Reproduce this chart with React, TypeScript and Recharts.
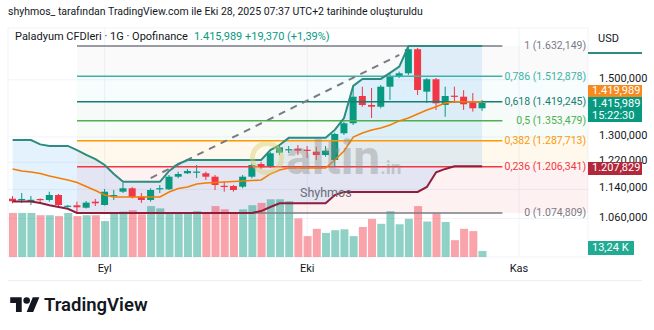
import React from "react";
import { Area, Bar, CartesianGrid, ComposedChart, Line, ReferenceArea, ReferenceDot, ReferenceLine, XAxis, YAxis } from "recharts";

// daily candles, Aug 18 -> Oct 28 2025
const opens = [1113.9, 1111.7, 1109.5, 1113.1, 1110.3, 1124.2, 1092.3, 1095.6, 1089.1, 1105.6, 1096.5, 1123.4, 1133.6, 1143.3, 1119.5, 1110.3, 1142.7, 1140.4, 1176.9, 1187.0, 1191.2, 1187.0, 1176.9, 1150.4, 1149.8, 1147.8, 1176.9, 1214.9, 1206.7, 1249.8, 1259.8, 1262.3, 1258.9, 1252.9, 1242.5, 1227.1, 1311.9, 1345.2, 1440.2, 1408.2, 1402.2, 1474.1, 1514.1, 1524.5, 1619.0, 1455.9, 1501.8, 1408.2, 1441.3, 1437.7, 1416.8, 1396.619];
const highs = [1121.4, 1129.9, 1121.4, 1114.5, 1133.6, 1127.1, 1096.5, 1105.6, 1107.5, 1113.1, 1141.3, 1138.4, 1158.5, 1147.0, 1129.9, 1143.3, 1152.7, 1181.9, 1191.8, 1199.8, 1211.9, 1191.8, 1181.9, 1162.3, 1152.7, 1181.9, 1217.1, 1221.0, 1252.0, 1274.0, 1270.8, 1274.0, 1270.8, 1268.6, 1270.8, 1313.9, 1350.6, 1474.1, 1474.1, 1469.4, 1480.4, 1521.8, 1530.6, 1632.149, 1624.1, 1506.6, 1506.6, 1474.1, 1474.1, 1461.5, 1451.0, 1426.0];
const lows = [1101.2, 1102.1, 1096.5, 1099.2, 1105.6, 1093.7, 1089.6, 1074.809, 1086.9, 1093.7, 1095.1, 1110.3, 1129.9, 1114.5, 1102.1, 1105.6, 1129.9, 1138.4, 1172.2, 1184.9, 1173.1, 1167.3, 1138.4, 1133.6, 1133.6, 1143.3, 1172.2, 1199.8, 1202.8, 1242.5, 1248.8, 1242.5, 1233.3, 1227.1, 1237.3, 1207.8, 1306.3, 1339.4, 1402.2, 1363.1, 1396.6, 1426.0, 1506.6, 1517.9, 1443.8, 1415.3, 1390.7, 1367.5, 1415.3, 1390.7, 1385.0, 1387.4];
const closes = [1106.7, 1113.1, 1110.9, 1110.9, 1124.2, 1096.5, 1094.5, 1090.2, 1102.9, 1101.2, 1133.6, 1124.2, 1143.3, 1118.6, 1110.3, 1138.4, 1143.6, 1176.9, 1184.9, 1193.9, 1192.1, 1176.9, 1152.7, 1149.2, 1138.4, 1176.9, 1211.9, 1204.9, 1247.9, 1266.7, 1260.8, 1256.1, 1257.6, 1242.5, 1256.1, 1309.6, 1345.2, 1437.7, 1408.2, 1402.2, 1474.1, 1511.5, 1524.5, 1619.0, 1462.1, 1501.8, 1414.2, 1440.2, 1439.1, 1410.7, 1396.619, 1415.989];
// volume in thousands
const volumes = [97, 97, 97, 92, 92, 90, 97, 90, 92, 92, 79, 95, 100, 103, 94, 112, 107, 97, 97, 97, 101, 97, 112, 105, 97, 105, 114, 119, 127, 127, 123, 85, 46, 62, 53, 59, 61, 46, 66, 84, 73, 101, 72, 84, 112, 78, 96, 77, 37, 62, 57, 13.24];

// donchian channel
const upperBand = [1290, 1290, 1290, 1276, 1271, 1271, 1271, 1258, 1243, 1230, 1212, 1185, 1162, 1162, 1162, 1162, 1162, 1194, 1215, 1227, 1227, 1227, 1227, 1227, 1227, 1227, 1227, 1227, 1258, 1274, 1297, 1297, 1297, 1297, 1297, 1323, 1363, 1477, 1503, 1503, 1503, 1526, 1550, 1632.149, 1632.149, 1632.149, 1632.149, 1632.149, 1632.149, 1632.149, 1632.149, 1632.149];
const lowerBand = [1106, 1106, 1106, 1102, 1096, 1091, 1086, 1074.809, 1074.809, 1074.809, 1074.809, 1074.809, 1074.809, 1074.809, 1074.809, 1074.809, 1074.809, 1074.809, 1074.809, 1074.809, 1074.809, 1074.809, 1074.809, 1074.809, 1074.809, 1074.809, 1074.809, 1080, 1091, 1101, 1101, 1101, 1101, 1101, 1101, 1124, 1133, 1133, 1133, 1133, 1133, 1133, 1133, 1133, 1133, 1147, 1190, 1200, 1207.829, 1207.829, 1207.829, 1207.829];
const basisBand = [1199.8, 1193.8, 1190.9, 1186.4, 1178.9, 1173.1, 1167.3, 1160.0, 1148.4, 1137.0, 1124.2, 1118.6, 1118.6, 1118.6, 1118.6, 1118.6, 1118.6, 1132.7, 1142.7, 1147.0, 1155.6, 1158.5, 1160.0, 1161.4, 1162.9, 1164.4, 1165.8, 1167.3, 1184.9, 1196.9, 1202.8, 1202.8, 1202.8, 1202.8, 1202.8, 1227.1, 1255.1, 1299.8, 1312.9, 1322.8, 1329.4, 1339.4, 1353.1, 1363.1, 1376.8, 1390.7, 1402.2, 1415.3, 1419.989, 1419.989, 1419.989, 1419.989];

const emptySlots = 11;
const monthTicks = [10, 32, 55];
const monthLabels = ["Eyl", "Eki", "Kas"];
const priceTicks = [1060, 1140, 1220, 1300, 1500];

const fibRatios = ["1", "0,786", "0,618", "0,5", "0,382", "0,236", "0"];
const fibPrices = [1632.149, 1512.878, 1419.245, 1353.479, 1287.713, 1206.341, 1074.809];
const fibColors = ["#787b86", "#3bb3a6", "#167d70", "#4caf50", "#ff9800", "#f23645", "#787b86"];
const fibFill = [0.04, 0.04, 0.04, 0.04, 0.07, 0.07];
const fibSpan = [7, 53.2, 62.3]; // start bar, line end, label end

const trendIdx = [15, 42];
const trendPrice = [1173, 1596];

const GREEN = "#089981";
const RED = "#f23645";

const trNum = (v: number, d = 3) => {
  const [int, dec] = v.toFixed(d).split(".");
  return int.replace(/\B(?=(\d{3})+(?!\d))/g, ".") + (dec ? "," + dec : "");
};

const rows = Array.from({ length: opens.length + emptySlots }, (_, i) => {
  if (i >= opens.length) return { i };
  return {
    i,
    open: opens[i],
    high: highs[i],
    low: lows[i],
    close: closes[i],
    volume: volumes[i],
    upper: upperBand[i],
    lower: lowerBand[i],
    basis: basisBand[i],
    band: [lowerBand[i], upperBand[i]],
  };
});

const Candle = (props: any) => {
  const { x, y, width, height, payload } = props;
  if (payload == null || payload.open == null) return null;
  const top = Math.min(y, y + height);
  const h = Math.abs(height);
  const lh = Math.log(payload.high);
  const ll = Math.log(payload.low);
  const toY = (v: number) => (lh === ll ? top : top + (h * (lh - Math.log(v))) / (lh - ll));
  const color = payload.close >= payload.open ? GREEN : RED;
  const yo = toY(payload.open);
  const yc = toY(payload.close);
  const cx = x + width / 2;
  return (
    <g>
      <line x1={cx} x2={cx} y1={top} y2={top + h} stroke={color} strokeWidth={1} />
      <rect x={x} y={Math.min(yo, yc)} width={width} height={Math.max(1.2, Math.abs(yo - yc))} fill={color} />
    </g>
  );
};

const VolumeBar = (props: any) => {
  const { x, y, width, height, payload } = props;
  if (payload == null || payload.volume == null) return null;
  const fill = payload.close >= payload.open ? "rgba(8,153,129,0.45)" : "rgba(242,54,69,0.45)";
  return <rect x={x} y={y} width={width} height={height} fill={fill} />;
};

const PriceTick = ({ x, y, payload }: any) => (
  <text x={x + 3} y={y} dy={2} fontSize={11} fill="#131722">
    {trNum(payload.value)}
  </text>
);

const MonthTick = ({ x, y, payload }: any) => (
  <text x={x} y={y} dy={7} textAnchor="middle" fontSize={11} fill="#131722">
    {monthLabels[monthTicks.indexOf(payload.value)]}
  </text>
);

const fibLabel = (k: number) => (p: any) => (
  <text x={p.cx} y={p.cy} dy={3.5} textAnchor="end" fontSize={10.5} fill={fibColors[k]}>
    {`${fibRatios[k]} (${trNum(fibPrices[k])})`}
  </text>
);

const tag = (top: number, bg: string, h = 13, w = 54): React.CSSProperties => ({
  position: "absolute", left: 588, top, width: w, height: h, background: bg, color: "#fff",
  fontSize: 11, lineHeight: "12px", paddingLeft: 4, boxSizing: "border-box",
});

export default function App() {
  const last = closes[closes.length - 1];
  const prev = closes[closes.length - 2];
  const change = last - prev;
  return (
    <div style={{ position: "absolute", left: 0, top: 0, width: 654, height: 330, background: "#fff", fontFamily: "Roboto, 'Noto Sans', sans-serif", color: "#131722", overflow: "hidden" }}>
      <div style={{ position: "absolute", left: 8, top: 5, fontSize: 10.5 }}>
        shyhmos_ tarafından TradingView.com ile Eki 28, 2025 07:37 UTC+2 tarihinde oluşturuldu
      </div>
      <ComposedChart width={654} height={282} data={rows} margin={{ top: 28, right: 0, bottom: 0, left: 8 }}>
        <CartesianGrid xAxisId="main" yAxisId="price" stroke="#f0f3fa" />
        <XAxis xAxisId="main" type="number" dataKey="i" domain={[-0.5, 62.5]} allowDataOverflow ticks={monthTicks} tick={MonthTick} axisLine={false} tickLine={false} height={25} />
        <XAxis xAxisId="vol" type="number" dataKey="i" domain={[-0.5, 62.5]} allowDataOverflow hide />
        <YAxis yAxisId="price" orientation="right" type="number" scale="log" domain={[962.7, 1707.3]} allowDataOverflow ticks={priceTicks} tick={PriceTick} axisLine={false} tickLine={false} width={66} />
        <YAxis yAxisId="vol" type="number" domain={[0, 504]} hide />

        {fibPrices.slice(0, -1).map((p, k) => (
          <ReferenceArea key={"fa" + k} xAxisId="main" yAxisId="price" x1={fibSpan[0]} x2={62.5} y1={fibPrices[k + 1]} y2={p} fill={fibColors[k]} fillOpacity={fibFill[k]} stroke="none" />
        ))}

        <Area xAxisId="main" yAxisId="price" type="linear" dataKey="band" stroke="none" fill="#2196f3" fillOpacity={0.12} isAnimationActive={false} />

        <Bar xAxisId="vol" yAxisId="vol" dataKey="volume" barSize={8} shape={VolumeBar} isAnimationActive={false} />

        {fibPrices.map((p, k) => (
          <ReferenceLine key={"fl" + k} xAxisId="main" yAxisId="price" segment={[{ x: fibSpan[0], y: p }, { x: fibSpan[1], y: p }]} stroke={fibColors[k]} strokeWidth={1.5} />
        ))}

        <ReferenceLine xAxisId="main" yAxisId="price" segment={[{ x: trendIdx[0], y: trendPrice[0] }, { x: trendIdx[1], y: trendPrice[1] }]} stroke="#787b86" strokeWidth={2} strokeDasharray="7 6" />

        <Line xAxisId="main" yAxisId="price" type="linear" dataKey="lower" stroke="#8e1e3a" strokeWidth={2} dot={false} isAnimationActive={false} />
        <Line xAxisId="main" yAxisId="price" type="linear" dataKey="upper" stroke="#2e8b7f" strokeWidth={2} dot={false} isAnimationActive={false} />
        <Line xAxisId="main" yAxisId="price" type="linear" dataKey="basis" stroke="#f57c00" strokeWidth={1.5} dot={false} isAnimationActive={false} />

        <Bar xAxisId="main" yAxisId="price" dataKey={(d: any) => (d.high == null ? null : [d.low, d.high])} barSize={7} shape={Candle} isAnimationActive={false} />

        {fibPrices.map((p, k) => (
          <ReferenceDot key={"fd" + k} xAxisId="main" yAxisId="price" x={fibSpan[2]} y={p} r={0} shape={fibLabel(k)} />
        ))}
      </ComposedChart>

      <div style={{ position: "absolute", left: 15, top: 30, fontSize: 11, whiteSpace: "nowrap" }}>
        Paladyum CFDleri · 1G · Opofinance
        <span style={{ color: GREEN, marginLeft: 6 }}>
          {trNum(last)} {"+" + trNum(change)} ({"+" + trNum((change / prev) * 100, 2)}%)
        </span>
      </div>

      <div style={{ position: "absolute", left: 598, top: 32, fontSize: 11 }}>USD</div>
      <div style={{ position: "absolute", left: 588, top: 52, width: 54, height: 2, background: "#2e8b7f" }} />
      <div style={tag(85, "#f68a1e", 12)}>{trNum(basisBand[basisBand.length - 1])}</div>
      <div style={{ ...tag(97, GREEN, 25), paddingTop: 1 }}>
        {trNum(last)}
        <br />
        15:22:30
      </div>
      <div style={tag(162, "#b2283b")}>{trNum(lowerBand[lowerBand.length - 1])}</div>
      <div style={{ ...tag(241, "#22ab94", 14, 46), lineHeight: "14px" }}>{trNum(volumes[volumes.length - 1], 2)} K</div>

      <div style={{ position: "absolute", left: 250, top: 141, width: 34, height: 34, borderRadius: 17, border: "5px solid #d6cf6a", boxSizing: "border-box", opacity: 0.45 }} />
      <div style={{ position: "absolute", left: 286, top: 135, fontSize: 48, fontWeight: 700, lineHeight: "46px", color: "#8a8a8a", opacity: 0.38, whiteSpace: "nowrap" }}>
        altin<span style={{ fontSize: 19 }}>.in</span>
      </div>
      <div style={{ position: "absolute", left: 300, top: 185, fontSize: 12.5, color: "#6a6d78" }}>Shyhmos</div>

      <div style={{ position: "absolute", left: 8, top: 280, width: 634, height: 1, background: "#eceef2" }} />

      <svg style={{ position: "absolute", left: 10, top: 294 }} width={30} height={23} viewBox="0 0 36 28">
        <path d="M14 22H7V11H0V4h14v18zM28 22h-8l7.5-18h8L28 22z" fill="#131722" />
        <circle cx={20} cy={8} r={4} fill="#131722" />
      </svg>
      <div style={{ position: "absolute", left: 44, top: 294, fontSize: 18.5, fontWeight: 600, color: "#131722" }}>TradingView</div>
    </div>
  );
}
